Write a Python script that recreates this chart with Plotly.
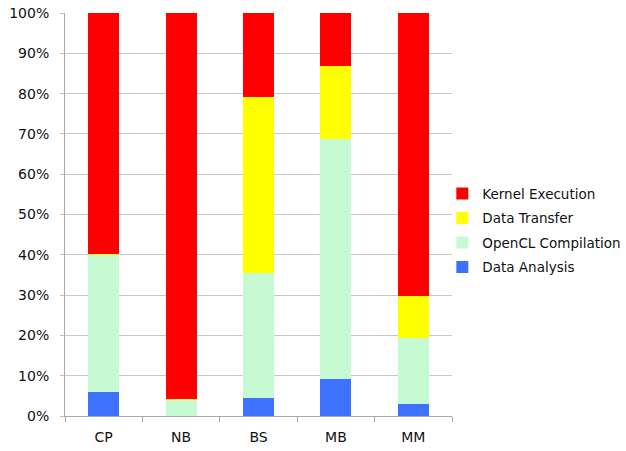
import plotly.graph_objects as go

categories = ["CP", "NB", "BS", "MB", "MM"]

# Share of total run time (%) per phase
data_analysis = [6.0, 0.0, 4.5, 9.3, 3.0]
opencl_compilation = [34.0, 4.0, 31.1, 59.4, 16.4]
data_transfer = [0.3, 0.2, 43.6, 18.1, 10.5]
kernel_execution = [59.7, 95.8, 20.8, 13.2, 70.1]

y_ticks = [0, 10, 20, 30, 40, 50, 60, 70, 80, 90, 100]
y_tick_labels = [f"{v}%" for v in y_ticks]

# (name, values, colour, legend rank) - stacked bottom to top
series = [
    ("Data Analysis", data_analysis, "#3D72FF", 4),
    ("OpenCL Compilation", opencl_compilation, "#C6FAD3", 3),
    ("Data Transfer", data_transfer, "#FFFF00", 2),
    ("Kernel Execution", kernel_execution, "#FF0000", 1),
]

fig = go.Figure()
for name, vals, color, rank in series:
    fig.add_trace(go.Bar(
        name=name, x=categories, y=vals,
        legendgroup=name, legendrank=rank,
        marker=dict(color=color, line=dict(width=0)),
    ))

font_family = "DejaVu Sans, Verdana, sans-serif"

fig.update_layout(
    barmode="stack",
    bargap=0.6,
    width=626, height=451,
    margin=dict(l=65, r=174, t=13, b=35, autoexpand=False),
    paper_bgcolor="white",
    plot_bgcolor="white",
    font=dict(family=font_family, size=14, color="#111111"),
    legend=dict(
        traceorder="grouped",
        tracegroupgap=4,
        x=0.975, xanchor="left",
        y=0.46, yanchor="middle",
        font=dict(size=13.5, color="#111111"),
        itemwidth=30,
        bgcolor="rgba(0,0,0,0)",
    ),
    showlegend=True,
)

fig.update_xaxes(
    automargin=False,
    showline=True, linecolor="#A8A8A8", linewidth=1,
    ticks="outside", tickson="boundaries", ticklen=5, tickcolor="#A8A8A8",
    ticklabelstandoff=8,
    showgrid=False,
)
fig.update_yaxes(
    automargin=False,
    range=[0, 100],
    tickmode="array",
    tickvals=y_ticks,
    ticktext=y_tick_labels,
    showline=True, linecolor="#A8A8A8", linewidth=1,
    ticks="outside", ticklen=4, tickcolor="#C0C0C0",
    ticklabelstandoff=8,
    showgrid=True, gridcolor="#C8C8C8", gridwidth=1,
    zeroline=False,
)

fig.write_html("out.html")
